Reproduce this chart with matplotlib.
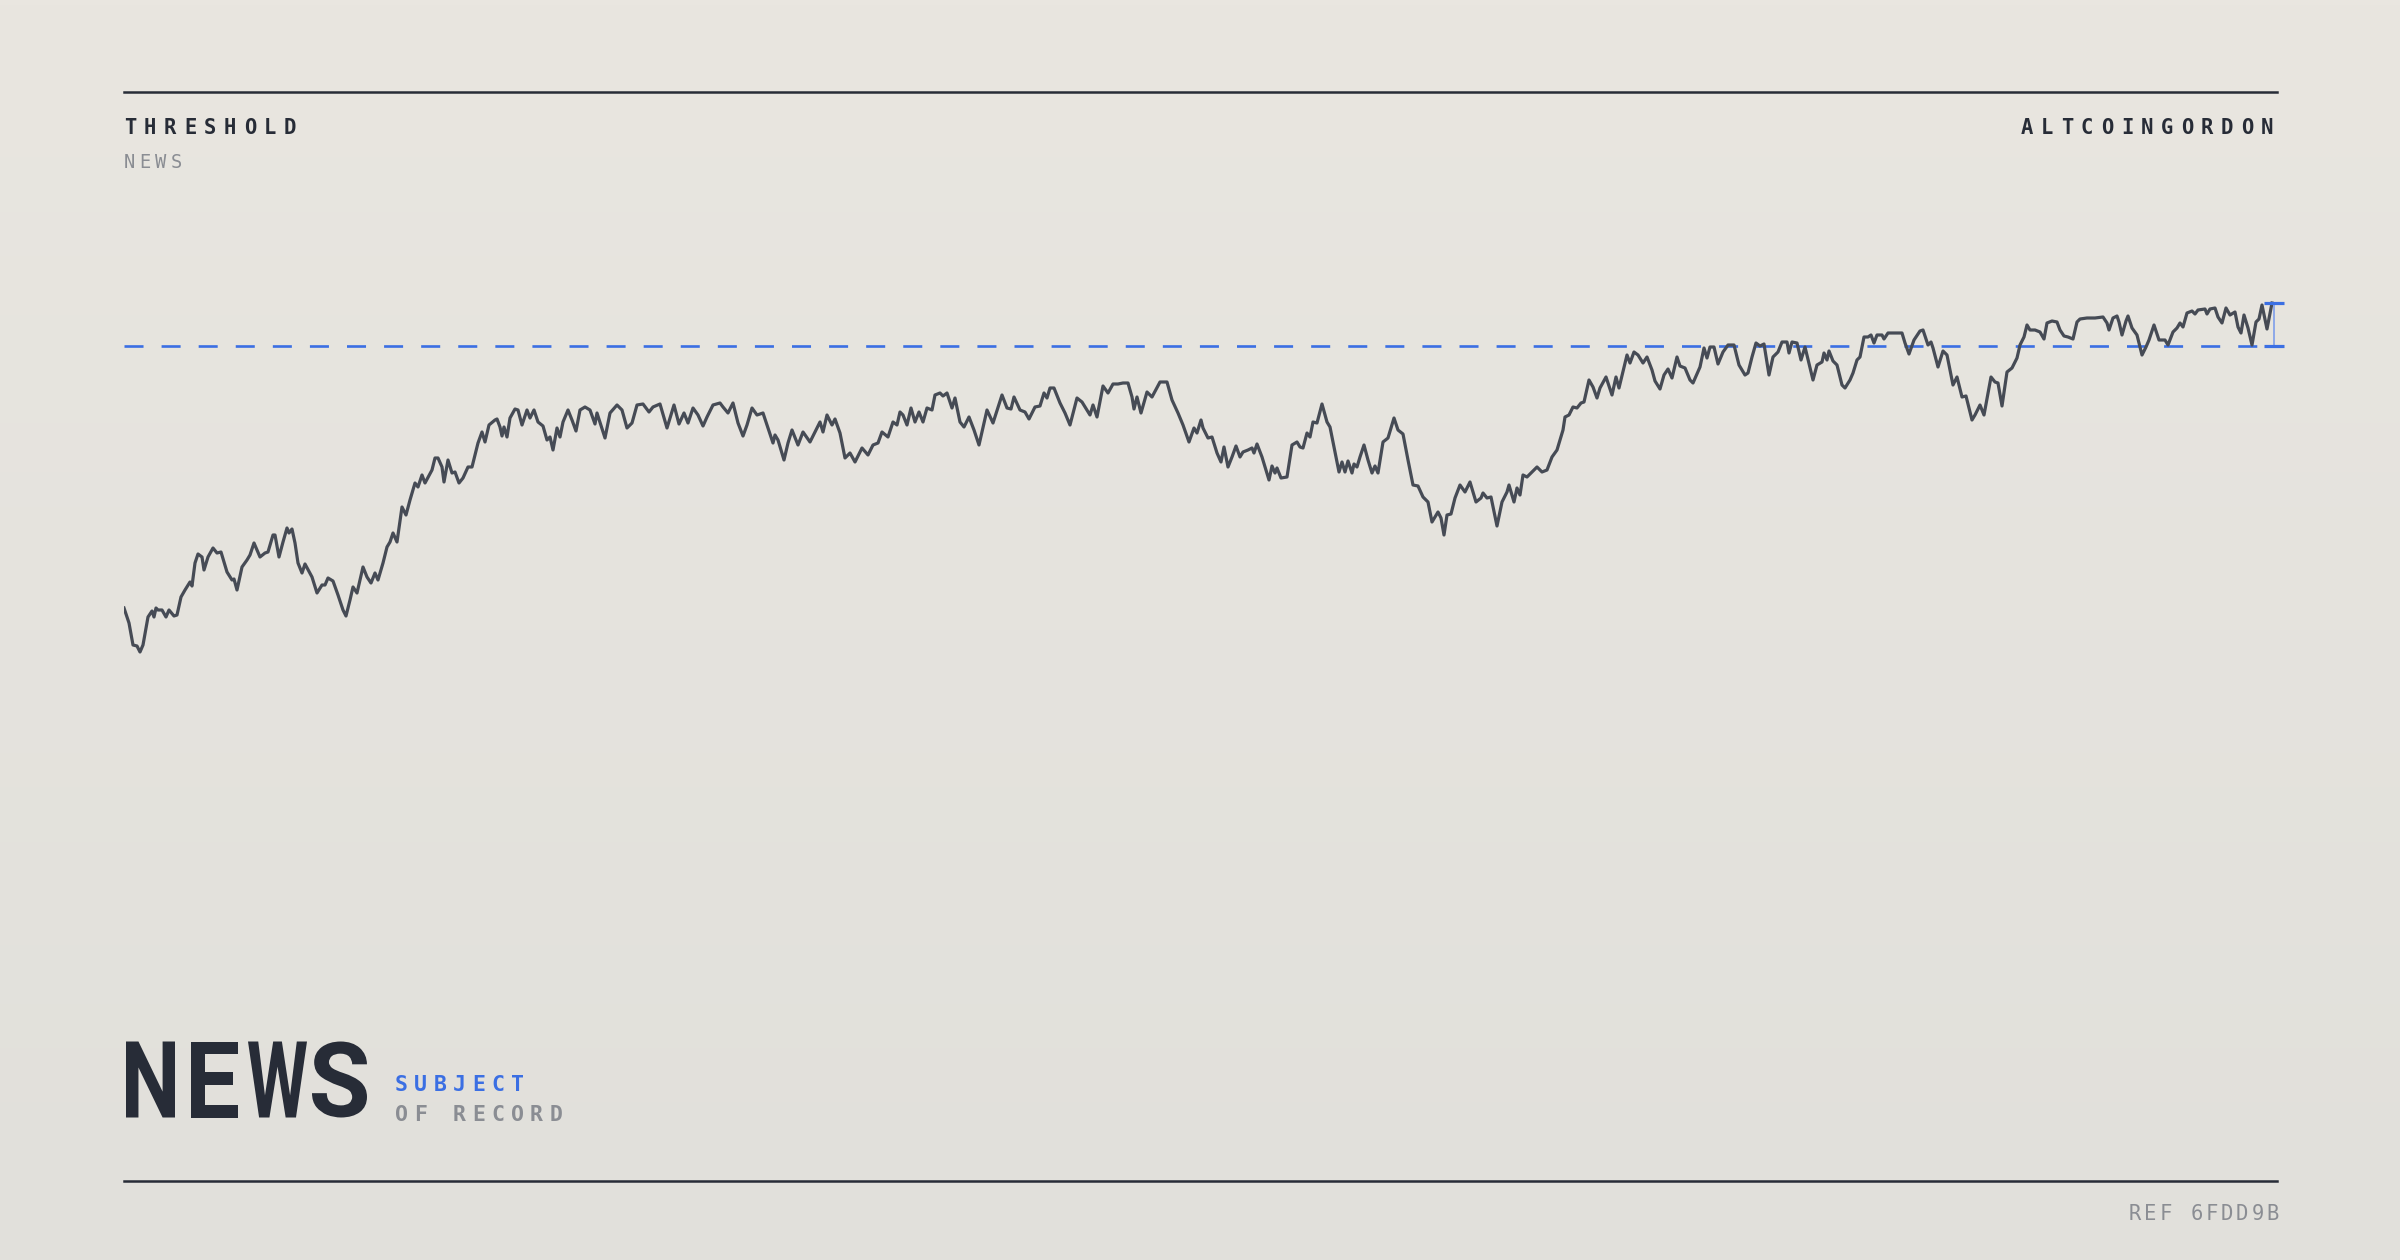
"""Threshold card: one price-like series against a dashed threshold level."""

import matplotlib

matplotlib.use("Agg")
import matplotlib.pyplot as plt
import numpy as np
from matplotlib.font_manager import FontProperties
from matplotlib.lines import Line2D
from matplotlib.patches import PathPatch
from matplotlib.textpath import TextPath
from matplotlib.transforms import Affine2D

W, H, DPI = 2400, 1260, 100

# series (day offset, index level)
days = [
    0, 5, 9, 13, 16, 19, 24, 28, 30, 32, 34, 38, 42, 45, 50, 53, 57, 61, 66, 68,
    71, 74, 78, 80, 84, 89, 93, 97, 103, 108, 110, 113, 118, 123, 126, 130, 136, 141, 144, 149,
    151, 155, 159, 163, 165, 168, 171, 174, 178, 181, 188, 193, 198, 201, 204, 209, 214, 219, 222, 226,
    229, 233, 239, 243, 247, 251, 254, 259, 263, 266, 269, 273, 278, 282, 286, 291, 294, 298, 301, 308,
    311, 314, 318, 320, 324, 328, 331, 335, 339, 344, 348, 354, 358, 361, 365, 371, 373, 376, 378, 380,
    383, 386, 391, 394, 398, 403, 406, 410, 414, 419, 423, 426, 429, 433, 436, 439, 444, 448, 452, 456,
    461, 466, 471, 473, 481, 486, 493, 498, 503, 508, 513, 519, 525, 529, 536, 543, 550, 555, 560, 564,
    569, 574, 579, 583, 589, 596, 599, 604, 609, 614, 619, 623, 628, 633, 639, 643, 649, 651, 654, 660,
    664, 668, 674, 679, 686, 691, 696, 699, 703, 708, 711, 716, 721, 726, 731, 738, 744, 749, 754, 758,
    764, 769, 773, 776, 779, 783, 787, 791, 795, 799, 803, 808, 811, 816, 819, 823, 828, 831, 836, 840,
    845, 850, 855, 863, 869, 878, 883, 887, 890, 896, 901, 905, 911, 916, 920, 923, 926, 930, 936, 941,
    946, 953, 958, 963, 966, 969, 973, 979, 984, 989, 994, 999, 1004, 1008, 1010, 1013, 1017, 1023, 1028, 1036,
    1043, 1048, 1054, 1059, 1065, 1070, 1073, 1077, 1079, 1084, 1088, 1093, 1097, 1100, 1104, 1108, 1112, 1116, 1119, 1124,
    1128, 1130, 1133, 1138, 1141, 1145, 1148, 1151, 1153, 1157, 1163, 1168, 1173, 1176, 1179, 1183, 1186, 1189, 1193, 1198,
    1203, 1206, 1211, 1215, 1218, 1221, 1224, 1228, 1230, 1233, 1236, 1240, 1244, 1248, 1251, 1254, 1259, 1264, 1270, 1274,
    1279, 1284, 1289, 1294, 1299, 1304, 1308, 1311, 1314, 1317, 1320, 1323, 1327, 1331, 1336, 1341, 1346, 1352, 1357, 1359,
    1363, 1367, 1373, 1378, 1383, 1385, 1390, 1393, 1396, 1399, 1403, 1408, 1413, 1418, 1423, 1428, 1433, 1439, 1441, 1445,
    1449, 1453, 1457, 1460, 1465, 1469, 1473, 1476, 1482, 1488, 1492, 1495, 1503, 1506, 1510, 1514, 1519, 1523, 1528, 1531,
    1536, 1540, 1544, 1548, 1553, 1556, 1561, 1566, 1569, 1576, 1580, 1583, 1586, 1590, 1594, 1599, 1604, 1610, 1615, 1621,
    1624, 1628, 1632, 1636, 1640, 1645, 1649, 1654, 1658, 1663, 1665, 1668, 1673, 1677, 1681, 1689, 1693, 1698, 1700, 1703,
    1705, 1709, 1713, 1718, 1721, 1726, 1729, 1733, 1736, 1740, 1744, 1747, 1750, 1753, 1758, 1760, 1764, 1769, 1778, 1781,
    1785, 1790, 1796, 1799, 1804, 1807, 1809, 1814, 1819, 1823, 1829, 1833, 1838, 1842, 1848, 1851, 1856, 1860, 1867, 1871,
    1874, 1878, 1883, 1888, 1893, 1896, 1900, 1903, 1906, 1911, 1916, 1920, 1923, 1928, 1933, 1936, 1940, 1944, 1949, 1953,
    1956, 1963, 1971, 1979, 1983, 1985, 1989, 1993, 1995, 1998, 2002, 2004, 2008, 2013, 2018, 2022, 2025, 2030, 2035, 2041,
    2044, 2049, 2053, 2056, 2059, 2063, 2068, 2071, 2074, 2081, 2083, 2086, 2091, 2094, 2098, 2102, 2106, 2111, 2114, 2117,
    2120, 2124, 2128, 2132, 2135, 2138, 2143, 2148,
]
level = [
    392, 377, 355, 354, 348, 355, 383, 389, 383, 392, 390, 390, 383, 390, 384, 385, 403, 410, 418, 414,
    437, 446, 443, 430, 443, 452, 447, 448, 428, 420, 421, 410, 433, 440, 445, 457, 443, 447, 448, 465,
    465, 443, 458, 472, 467, 471, 457, 437, 427, 436, 423, 407, 415, 415, 422, 419, 405, 390, 384, 400,
    413, 407, 433, 423, 417, 427, 420, 437, 453, 458, 467, 458, 493, 485, 500, 517, 513, 525, 517, 530,
    542, 542, 533, 518, 540, 527, 528, 517, 522, 533, 533, 557, 568, 558, 575, 580, 581, 573, 564, 573,
    563, 582, 591, 590, 575, 590, 582, 590, 578, 574, 560, 563, 550, 572, 563, 578, 590, 580, 569, 590,
    593, 590, 576, 587, 562, 587, 595, 590, 572, 577, 595, 596, 588, 593, 596, 572, 595, 576, 587, 577,
    592, 585, 574, 583, 595, 597, 593, 587, 597, 577, 564, 575, 592, 585, 587, 575, 557, 565, 560, 540,
    557, 570, 555, 568, 558, 568, 578, 568, 585, 575, 581, 567, 542, 547, 538, 552, 545, 555, 557, 568,
    563, 578, 575, 588, 585, 575, 592, 578, 588, 578, 592, 590, 605, 607, 604, 607, 592, 602, 578, 573,
    583, 570, 555, 590, 577, 605, 592, 591, 603, 590, 588, 581, 593, 594, 607, 602, 612, 612, 597, 587,
    575, 602, 598, 590, 585, 595, 583, 614, 607, 616, 616, 617, 617, 603, 591, 603, 587, 608, 603, 618,
    618, 600, 587, 575, 558, 572, 567, 580, 572, 562, 563, 547, 538, 553, 533, 543, 554, 543, 548, 550,
    552, 547, 556, 543, 533, 520, 534, 527, 532, 522, 523, 555, 558, 553, 552, 567, 563, 578, 577, 596,
    578, 573, 548, 528, 538, 528, 539, 527, 536, 533, 543, 555, 540, 527, 534, 527, 558, 562, 582, 570,
    566, 540, 515, 514, 503, 498, 478, 483, 488, 482, 465, 485, 486, 502, 515, 508, 518, 498, 502, 507,
    502, 503, 474, 498, 508, 515, 498, 512, 505, 525, 523, 528, 533, 528, 530, 543, 550, 570, 583, 585,
    593, 592, 597, 598, 620, 613, 602, 612, 623, 605, 623, 612, 645, 637, 648, 645, 637, 643, 630, 619,
    611, 625, 631, 622, 643, 634, 632, 620, 617, 633, 652, 642, 653, 653, 636, 648, 655, 655, 635, 625,
    627, 643, 657, 654, 656, 625, 643, 648, 658, 658, 647, 658, 657, 640, 653, 620, 635, 638, 647, 640,
    649, 639, 635, 615, 612, 620, 627, 640, 643, 663, 663, 665, 657, 665, 665, 661, 667, 667, 667, 657,
    646, 660, 669, 670, 655, 658, 652, 633, 649, 645, 615, 623, 603, 604, 580, 585, 595, 585, 623, 618,
    617, 594, 628, 632, 642, 655, 663, 675, 670, 670, 668, 661, 677, 679, 678, 670, 664, 663, 661, 678,
    681, 682, 682, 683, 677, 670, 682, 684, 678, 665, 679, 684, 672, 665, 645, 653, 660, 675, 660, 660,
    655, 668, 672, 677, 673, 687, 689, 686, 690, 691, 686, 691, 692, 683, 677, 692, 685, 688, 673, 667,
    685, 672, 655, 678, 681, 695, 671, 697,
]
THRESHOLD = 654

BG_TOP = "#e9e6e0"
BG_BOTTOM = "#e1e0db"
INK = "#272c37"
LINE = "#464b55"
BLUE = "#3b6fe3"
BLUE_SOFT = "#86a3e8"
GREY = "#8a8d93"
MONO = "DejaVu Sans Mono"


def fx(px):
    return px / W


def fy(py):
    return 1 - py / H


def spaced(text, x, y, step, size, color, weight="bold"):
    # letter-spaced label, one glyph at a time
    for i, ch in enumerate(text):
        fig.text(fx(x + i * step), fy(y), ch, fontsize=size, color=color,
                 fontweight=weight, family=MONO, ha="left", va="baseline")


fig = plt.figure(figsize=(W / DPI, H / DPI), dpi=DPI)

# soft vertical gradient behind everything
bg = fig.add_axes([0, 0, 1, 1], zorder=-10)
t = np.linspace(0, 1, 256)[:, None, None]
c0 = np.array(matplotlib.colors.to_rgb(BG_TOP))
c1 = np.array(matplotlib.colors.to_rgb(BG_BOTTOM))
bg.imshow(c0 + (c1 - c0) * t, aspect="auto", extent=[0, 1, 0, 1], origin="upper")
bg.axis("off")

# plot area
ax = fig.add_axes([fx(124), fy(800), fx(2160), 600 / H])
ax.set_xlim(0, 2160)
ax.set_ylim(200, 800)
ax.axis("off")
ax.patch.set_alpha(0)

ax.axhline(THRESHOLD, color=BLUE, lw=1.9, dashes=(13.7 / 1.9, 13.0 / 1.9),
           dash_capstyle="butt", zorder=1)
ax.plot(days, level, color=LINE, lw=2.3, solid_joinstyle="round", zorder=2)

# gap between last value and threshold
last_x = days[-1] + 2
ax.vlines(last_x, THRESHOLD, level[-1], color=BLUE_SOFT, lw=1.3, zorder=3)
ax.plot([last_x, last_x], [THRESHOLD, level[-1]], ls="none", marker="_",
        ms=14.4, mew=2.3, color=BLUE, zorder=3)

# rules
for y in (92, 1181):
    fig.add_artist(Line2D([fx(124), fx(2277)], [fy(y), fy(y)], color=INK,
                          lw=1.8, transform=fig.transFigure))

# header
spaced("THRESHOLD", 124, 134, 20, 14.8, INK)
spaced("NEWS", 124, 168, 15.5, 13.5, GREY, weight="normal")
spaced("ALTCOINGORDON", 2021, 134, 20, 14.8, INK)

# footer wordmark: each glyph outline squeezed into its own box (left, right)
word_font = FontProperties(family="Roboto", weight="bold")
for ch, (x0, x1) in zip("NEWS", [(126, 175), (191, 238), (248, 307), (312, 367)]):
    tp = TextPath((0, 0), ch, size=100, prop=word_font)
    ext = tp.get_extents()
    to_fig = (Affine2D().translate(-ext.x0, -ext.y0)
              .scale((x1 - x0) / ext.width, 76 / ext.height)
              .translate(x0, H - 1117.5)
              .scale(1 / W, 1 / H))
    fig.add_artist(PathPatch(to_fig.transform_path(tp), facecolor=INK,
                             edgecolor="none", transform=fig.transFigure))

spaced("SUBJECT", 395, 1091, 19.3, 15.5, BLUE)
spaced("OF RECORD", 395, 1121, 19.3, 15.5, GREY)
spaced("REF 6FDD9B", 2129, 1220, 15.3, 14.8, GREY, weight="normal")

fig.savefig("out.png", dpi=DPI)
